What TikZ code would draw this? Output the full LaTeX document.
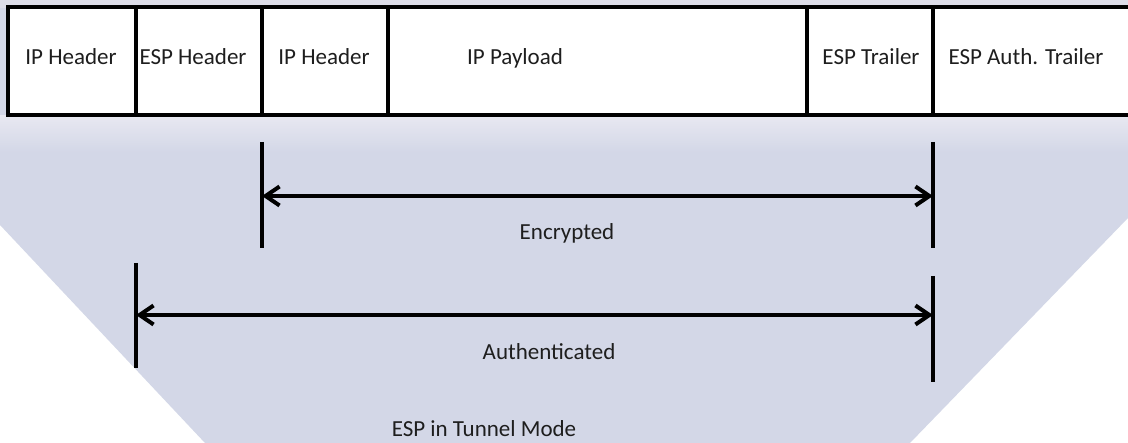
\documentclass[tikz,border=0pt]{standalone}
\usepackage{fontspec}
\setmainfont{Carlito}
\usetikzlibrary{arrows.meta}
\definecolor{bgfill}{HTML}{D3D7E7}
\definecolor{bgtop}{HTML}{DDDDE8}
\definecolor{bglight}{HTML}{E8E8F1}
\definecolor{txt}{HTML}{1E1E1E}
\tikzset{
  field/.style={draw=black, line width=4pt, fill=white, rectangle, inner sep=0pt, minimum height=108pt},
  lbl/.style={font=\fontsize{23}{26}\selectfont, text=txt, anchor=base, inner sep=0pt},
  bar/.style={line width=4pt},
  span/.style={line width=4pt, {Straight Barb[length=14pt,width=19pt,line width=4pt]}-{Straight Barb[length=14pt,width=19pt,line width=4pt]}}
}
\begin{document}
\begin{tikzpicture}[x=1pt,y=-1pt]
\useasboundingbox (0,0) rectangle (1128,443);
% background
\fill[bgfill] (0,0) -- (1128,0) -- (1128,218) -- (910,443) -- (205,443) -- (0,225) -- cycle;
\fill[bgtop] (0,0) rectangle (1128,8);
\shade[top color=bglight, bottom color=bgfill] (0,116) rectangle (1128,152);
% packet fields
\node[field, minimum width=128pt] (iph1) at (72,61) {};
\node[field, minimum width=126pt] (esph) at (199,61) {};
\node[field, minimum width=126pt] (iph2) at (325,61) {};
\node[field, minimum width=419pt] (payl) at (597.5,61) {};
\node[field, minimum width=126pt] (espt) at (870,61) {};
\node[field, minimum width=220pt] (espa) at (1043,61) {};
% field labels
\node[lbl] (t1) at (71,65) {IP Header};
\node[lbl] (t2) at (193,65) {ESP Header};
\node[lbl] (t3) at (324,65) {IP Header};
\node[lbl] (t4) at (515,65) {IP Payload};
\node[lbl] (t5) at (871,65) {ESP Trailer};
\node[lbl] (t6) at (1026,65) {ESP Auth. Trailer};
% encrypted span
\coordinate (e1a) at (262,142);
\coordinate (e1b) at (262,248);
\coordinate (e2a) at (933,142);
\coordinate (e2b) at (933,248);
\coordinate (e1m) at (262,196);
\coordinate (e2m) at (933,196);
\draw[bar] (e1a) -- (e1b);
\draw[bar] (e2a) -- (e2b);
\draw[span] (e1m) -- (e2m);
\node[lbl] (enc) at (567,240) {Encrypted};
% authenticated span
\coordinate (a1a) at (136,263);
\coordinate (a1b) at (136,368);
\coordinate (a2a) at (933,276);
\coordinate (a2b) at (933,382);
\coordinate (a1m) at (136,315);
\coordinate (a2m) at (933,315);
\draw[bar] (a1a) -- (a1b);
\draw[bar] (a2a) -- (a2b);
\draw[span] (a1m) -- (a2m);
\node[lbl] (auth) at (549,360) {Authenticated};
% caption
\node[lbl] (cap) at (484,437) {ESP in Tunnel Mode};
\end{tikzpicture}
\end{document}
